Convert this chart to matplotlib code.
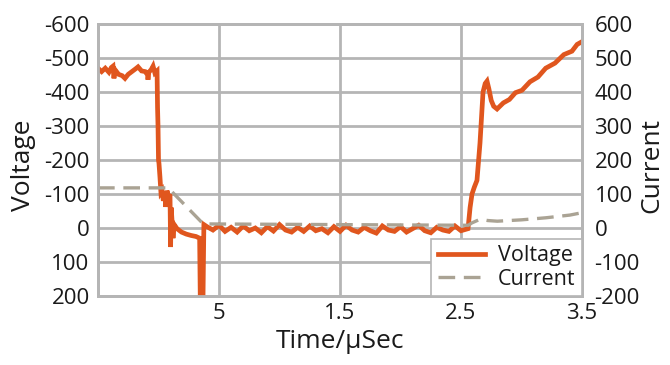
import matplotlib
matplotlib.use("Agg")
import matplotlib.pyplot as plt

# =====================================
# Data
# =====================================

volt_t = [
    -0.5, -0.47, -0.44, -0.41, -0.39, -0.376, -0.368, -0.36, -0.33, -0.30,
    -0.277, -0.25, -0.22, -0.19, -0.169, -0.14, -0.11, -0.09, -0.087, -0.08,
    -0.06, -0.045, -0.03, -0.012,
    -0.008, -0.004, 0.0, 0.004, 0.012, 0.02, 0.029, 0.04, 0.054, 0.06,
    0.07, 0.085, 0.095, 0.1, 0.105, 0.112, 0.12, 0.13, 0.153, 0.19,
    0.23, 0.27, 0.31, 0.34, 0.345, 0.368, 0.375, 0.40,
    0.45, 0.5, 0.55, 0.6, 0.65, 0.7, 0.75, 0.8, 0.85, 0.9,
    0.95, 1.0, 1.05, 1.1, 1.15, 1.2, 1.25, 1.3, 1.35, 1.4,
    1.45, 1.5, 1.55, 1.6, 1.65, 1.7, 1.75, 1.8, 1.85, 1.9,
    1.95, 2.0, 2.05, 2.1, 2.15, 2.2, 2.25, 2.3, 2.35, 2.4,
    2.45, 2.5, 2.558,
    2.575, 2.591, 2.61, 2.632, 2.657, 2.682, 2.70, 2.715, 2.73, 2.75,
    2.77, 2.798, 2.85, 2.90, 2.95, 3.004, 3.07, 3.136, 3.2, 3.277,
    3.35, 3.417, 3.46, 3.5,
]

volt_v = [
    -470, -460, -470, -458, -472, -476, -440, -466, -452, -448,
    -440, -452, -460, -468, -474, -462, -460, -450, -436, -458,
    -466, -476, -456, -462,
    -355, -300, -200, -190, -150, -105, -110, -80, -100, -62,
    -110, -90, -100, 56, -60, -20, 30, -10, 2, 12,
    18, 22, 25, 30, 200, 200, -10, -4,
    6, -8, 10, -2, 12, -6, 8, 0, 14, -4,
    9, -10, 6, 12, -2, 10, -6, 8, 2, 14,
    -4, 10, -8, 6, 12, -2, 8, 15, -6, 6,
    10, -4, 12, 2, -8, 8, 14, -2, 6, 10,
    -6, 8, 2,
    -60, -100, -120, -140, -250, -400, -425, -432, -410, -375,
    -358, -350, -368, -378, -398, -405, -430, -444, -470, -485,
    -510, -520, -540, -548,
]

curr_t = [-0.5, 0.08, 0.37, 2.56, 2.59, 2.66, 2.72, 2.8, 3.0, 3.2, 3.4, 3.5]
curr_a = [118, 118, 12, 8, 15, 26, 22, 20, 24, 30, 38, 45]

x_ticks = [0.5, 1.5, 2.5, 3.5]
x_labels = ["5", "1.5", "2.5", "3.5"]
v_ticks = [-600, -500, -400, -300, -200, -100, 0, 100, 200]
c_ticks = [-200, -100, 0, 100, 200, 300, 400, 500, 600]

# =====================================
# Style
# =====================================

plt.rcParams["font.family"] = ["Open Sans", "DejaVu Sans"]
ORANGE = "#e0561e"
TAN = "#aaa394"
GRID = "#b5b5b5"
TEXT = "#1a1a1a"

fig = plt.figure(figsize=(6.7, 3.65), dpi=100)
ax = fig.add_axes([98 / 670, 1 - 296 / 365, 484 / 670, 272 / 365])
ax2 = ax.twinx()

# =====================================
# Voltage (left, inverted)
# =====================================

line_v, = ax.plot(volt_t, volt_v, color=ORANGE, linewidth=3.4,
                  solid_joinstyle="miter", label="Voltage", zorder=3)
ax.set_xlim(-0.5, 3.5)
ax.set_ylim(200, -600)
ax.set_xticks(x_ticks)
ax.set_xticklabels(x_labels)
ax.set_yticks(v_ticks)
ax.set_yticklabels([str(v) for v in v_ticks])
ax.grid(True, color=GRID, linewidth=2.0)
ax.set_axisbelow(True)
ax.tick_params(axis="y", length=0, labelsize=16, colors=TEXT, pad=6)
ax.tick_params(axis="x", length=0, labelsize=16, colors=TEXT, pad=5)
ax.set_ylabel("Voltage", fontsize=19, color=TEXT)
ax.yaxis.set_label_coords(-0.128, 0.48)
ax.set_xlabel("Time/\u00b5Sec", fontsize=19, color=TEXT, labelpad=4)

# =====================================
# Current (right)
# =====================================

line_c, = ax2.plot(curr_t, curr_a, color=TAN, linewidth=2.4,
                   dashes=(5, 2.6), label="Current")
ax2.set_ylim(-200, 600)
ax2.set_yticks(c_ticks)
ax2.set_yticklabels([str(c) for c in c_ticks])
ax2.tick_params(length=0, labelsize=16, colors=TEXT, pad=9)
ax2.set_ylabel("Current", fontsize=19, color=TEXT)
ax2.yaxis.set_label_coords(1.118, 0.48)

for a in (ax, ax2):
    for s in a.spines.values():
        s.set_color(GRID)
        s.set_linewidth(2.0)

leg = ax2.legend(handles=[line_v, line_c], loc="lower right",
                 borderaxespad=0, fancybox=False, fontsize=15.5,
                 edgecolor=GRID, framealpha=1, handlelength=2.2,
                 borderpad=0.3, labelspacing=0.1, handletextpad=0.6)
leg.get_frame().set_linewidth(1.2)
for t in leg.get_texts():
    t.set_color(TEXT)

fig.savefig("out.png", dpi=100)
